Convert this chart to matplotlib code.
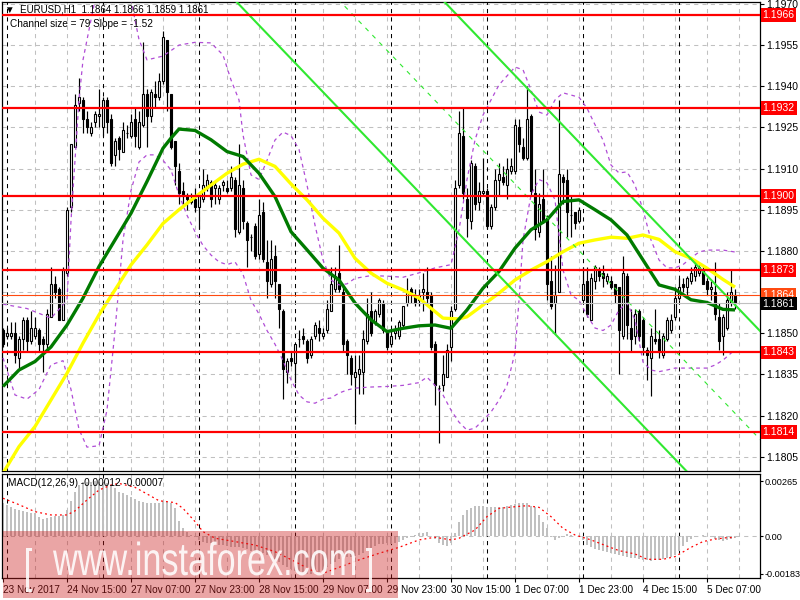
import numpy as np
import matplotlib
matplotlib.use("Agg")
import matplotlib.pyplot as plt
from matplotlib.patches import Rectangle, PathPatch
from matplotlib.textpath import TextPath
from matplotlib.font_manager import FontProperties
from matplotlib.transforms import blended_transform_factory, Affine2D

plt.rcParams['font.family'] = ['Liberation Sans', 'DejaVu Sans']

# ---- EURUSD H1 candles (23 Nov 23:00 .. 5 Dec 14:00) ----
opens = [
    1.1851, 1.1849, 1.1849, 1.1850, 1.1841, 1.1848, 1.1855, 1.1847, 1.1849, 1.1851,
    1.1848, 1.1846, 1.1856, 1.1868, 1.1866, 1.1855, 1.1872, 1.1896, 1.1918, 1.1934,
    1.1935, 1.1928, 1.1923, 1.1927, 1.1929, 1.1925, 1.1935, 1.1928, 1.1915, 1.1921,
    1.1916, 1.1923, 1.1922, 1.1928, 1.1918, 1.1926, 1.1937, 1.1929, 1.1937, 1.1936,
    1.1942, 1.1957, 1.1937, 1.1920, 1.1909, 1.1902, 1.1900, 1.1898, 1.1899, 1.1896,
    1.1899, 1.1903, 1.1905, 1.1903, 1.1899, 1.1904, 1.1903, 1.1903, 1.1906, 1.1887,
    1.1903, 1.1890, 1.1885, 1.1889, 1.1879, 1.1894, 1.1876, 1.1868, 1.1878, 1.1868,
    1.1858, 1.1836, 1.1841, 1.1839, 1.1848, 1.1849, 1.1847, 1.1842, 1.1849, 1.1852,
    1.1849, 1.1851, 1.1858, 1.1866, 1.1872, 1.1865, 1.1847, 1.1841, 1.1834, 1.1835,
    1.1836, 1.1847, 1.1858, 1.1854, 1.1857, 1.1861, 1.1850, 1.1846, 1.1850, 1.1849,
    1.1853, 1.1861, 1.1866, 1.1864, 1.1862, 1.1865, 1.1865, 1.1864, 1.1846, 1.1830,
    1.1831, 1.1834, 1.1845, 1.1859, 1.1904, 1.1922, 1.1899, 1.1891, 1.1911, 1.1898,
    1.1901, 1.1902, 1.1889, 1.1896, 1.1906, 1.1907, 1.1904, 1.1909, 1.1909, 1.1925,
    1.1918, 1.1914, 1.1929, 1.1901, 1.1887, 1.1899, 1.1892, 1.1869, 1.1861, 1.1865,
    1.1907, 1.1906, 1.1893, 1.1894, 1.1891, 1.1862, 1.1869, 1.1855, 1.1869, 1.1873,
    1.1872, 1.1869, 1.1869, 1.1868, 1.1867, 1.1849, 1.1871, 1.1852, 1.1849, 1.1858,
    1.1855, 1.1844, 1.1841, 1.1848, 1.1848, 1.1842, 1.1848, 1.1851, 1.1856, 1.1863,
    1.1868, 1.1867, 1.1869, 1.1871, 1.1872, 1.1873, 1.1869, 1.1866, 1.1865, 1.1856,
    1.1849, 1.1852, 1.1861, 1.1864]
highs = [
    1.1852, 1.1852, 1.1854, 1.1854, 1.1849, 1.1856, 1.1856, 1.1858, 1.1856, 1.1852,
    1.1849, 1.1859, 1.1874, 1.1871, 1.1867, 1.1874, 1.1896, 1.1919, 1.1937, 1.1943,
    1.1936, 1.1931, 1.1927, 1.1931, 1.1939, 1.1936, 1.1936, 1.1930, 1.1921, 1.1922,
    1.1927, 1.1926, 1.1930, 1.1932, 1.1931, 1.1956, 1.1939, 1.1939, 1.1942, 1.1945,
    1.1960, 1.1957, 1.1937, 1.1920, 1.1912, 1.1905, 1.1901, 1.1901, 1.1903, 1.1900,
    1.1910, 1.1908, 1.1906, 1.1905, 1.1904, 1.1906, 1.1906, 1.1911, 1.1907, 1.1919,
    1.1906, 1.1891, 1.1886, 1.1890, 1.1899, 1.1898, 1.1884, 1.1884, 1.1882, 1.1868,
    1.1859, 1.1841, 1.1843, 1.1846, 1.1851, 1.1852, 1.1848, 1.1849, 1.1854, 1.1855,
    1.1852, 1.1862, 1.1874, 1.1874, 1.1882, 1.1867, 1.1848, 1.1842, 1.1842, 1.1842,
    1.1851, 1.1863, 1.1865, 1.1859, 1.1863, 1.1862, 1.1851, 1.1851, 1.1853, 1.1855,
    1.1860, 1.1870, 1.1867, 1.1866, 1.1866, 1.1872, 1.1874, 1.1865, 1.1847, 1.1831,
    1.1842, 1.1846, 1.1860, 1.1906, 1.1931, 1.1932, 1.1903, 1.1913, 1.1912, 1.1905,
    1.1914, 1.1903, 1.1897, 1.1910, 1.1912, 1.1911, 1.1914, 1.1914, 1.1928, 1.1928,
    1.1921, 1.1940, 1.1930, 1.1910, 1.1901, 1.1910, 1.1893, 1.1878, 1.1875, 1.1935,
    1.1908, 1.1910, 1.1900, 1.1894, 1.1896, 1.1874, 1.1874, 1.1872, 1.1875, 1.1874,
    1.1875, 1.1872, 1.1871, 1.1868, 1.1867, 1.1878, 1.1872, 1.1859, 1.1859, 1.1859,
    1.1856, 1.1845, 1.1852, 1.1859, 1.1851, 1.1850, 1.1856, 1.1857, 1.1867, 1.1870,
    1.1870, 1.1871, 1.1874, 1.1876, 1.1875, 1.1875, 1.1870, 1.1869, 1.1876, 1.1861,
    1.1857, 1.1865, 1.1873, 1.1866]
lows = [
    1.1845, 1.1848, 1.1848, 1.1839, 1.1837, 1.1844, 1.1843, 1.1846, 1.1848, 1.1843,
    1.1836, 1.1843, 1.1856, 1.1863, 1.1855, 1.1855, 1.1871, 1.1894, 1.1918, 1.1931,
    1.1923, 1.1923, 1.1922, 1.1925, 1.1925, 1.1922, 1.1923, 1.1911, 1.1911, 1.1913,
    1.1916, 1.1921, 1.1921, 1.1918, 1.1917, 1.1925, 1.1918, 1.1927, 1.1932, 1.1935,
    1.1941, 1.1931, 1.1917, 1.1904, 1.1897, 1.1897, 1.1895, 1.1897, 1.1894, 1.1888,
    1.1898, 1.1902, 1.1896, 1.1897, 1.1897, 1.1902, 1.1901, 1.1902, 1.1885, 1.1886,
    1.1888, 1.1874, 1.1880, 1.1877, 1.1877, 1.1876, 1.1863, 1.1867, 1.1863, 1.1852,
    1.1826, 1.1832, 1.1838, 1.1832, 1.1845, 1.1846, 1.1839, 1.1841, 1.1848, 1.1847,
    1.1848, 1.1850, 1.1858, 1.1865, 1.1865, 1.1843, 1.1835, 1.1831, 1.1817, 1.1828,
    1.1828, 1.1846, 1.1849, 1.1853, 1.1856, 1.1850, 1.1844, 1.1845, 1.1848, 1.1848,
    1.1852, 1.1860, 1.1861, 1.1860, 1.1860, 1.1858, 1.1861, 1.1844, 1.1824, 1.1810,
    1.1829, 1.1834, 1.1840, 1.1858, 1.1903, 1.1899, 1.1885, 1.1888, 1.1895, 1.1895,
    1.1900, 1.1888, 1.1888, 1.1895, 1.1900, 1.1904, 1.1899, 1.1908, 1.1908, 1.1916,
    1.1913, 1.1913, 1.1900, 1.1884, 1.1885, 1.1890, 1.1862, 1.1859, 1.1850, 1.1865,
    1.1897, 1.1885, 1.1885, 1.1888, 1.1890, 1.1862, 1.1856, 1.1855, 1.1866, 1.1869,
    1.1867, 1.1868, 1.1866, 1.1861, 1.1835, 1.1848, 1.1848, 1.1843, 1.1846, 1.1847,
    1.1842, 1.1833, 1.1827, 1.1846, 1.1841, 1.1841, 1.1847, 1.1850, 1.1855, 1.1862,
    1.1865, 1.1863, 1.1868, 1.1869, 1.1871, 1.1868, 1.1864, 1.1862, 1.1855, 1.1844,
    1.1842, 1.1851, 1.1860, 1.1859]
closes = [
    1.1846, 1.1850, 1.1850, 1.1842, 1.1848, 1.1855, 1.1847, 1.1852, 1.1852, 1.1846,
    1.1846, 1.1857, 1.1868, 1.1865, 1.1855, 1.1873, 1.1895, 1.1919, 1.1933, 1.1936,
    1.1928, 1.1925, 1.1925, 1.1930, 1.1930, 1.1935, 1.1927, 1.1912, 1.1920, 1.1917,
    1.1924, 1.1923, 1.1927, 1.1922, 1.1927, 1.1937, 1.1929, 1.1938, 1.1936, 1.1942,
    1.1958, 1.1938, 1.1918, 1.1911, 1.1901, 1.1900, 1.1899, 1.1899, 1.1896, 1.1900,
    1.1904, 1.1906, 1.1899, 1.1904, 1.1903, 1.1905, 1.1902, 1.1907, 1.1888, 1.1904,
    1.1891, 1.1884, 1.1885, 1.1878, 1.1893, 1.1877, 1.1869, 1.1877, 1.1869, 1.1859,
    1.1837, 1.1840, 1.1840, 1.1846, 1.1848, 1.1848, 1.1841, 1.1848, 1.1853, 1.1850,
    1.1850, 1.1859, 1.1868, 1.1871, 1.1866, 1.1846, 1.1842, 1.1835, 1.1836, 1.1837,
    1.1848, 1.1857, 1.1850, 1.1858, 1.1862, 1.1851, 1.1845, 1.1849, 1.1851, 1.1854,
    1.1860, 1.1865, 1.1865, 1.1861, 1.1864, 1.1866, 1.1863, 1.1845, 1.1831, 1.1830,
    1.1835, 1.1844, 1.1858, 1.1903, 1.1923, 1.1901, 1.1892, 1.1912, 1.1897, 1.1902,
    1.1902, 1.1889, 1.1896, 1.1906, 1.1908, 1.1905, 1.1910, 1.1911, 1.1926, 1.1919,
    1.1914, 1.1928, 1.1902, 1.1888, 1.1897, 1.1891, 1.1868, 1.1860, 1.1864, 1.1908,
    1.1905, 1.1894, 1.1893, 1.1890, 1.1895, 1.1868, 1.1857, 1.1870, 1.1874, 1.1871,
    1.1870, 1.1871, 1.1867, 1.1864, 1.1851, 1.1872, 1.1853, 1.1848, 1.1857, 1.1849,
    1.1845, 1.1842, 1.1849, 1.1847, 1.1843, 1.1849, 1.1855, 1.1855, 1.1863, 1.1867,
    1.1867, 1.1870, 1.1872, 1.1874, 1.1874, 1.1868, 1.1866, 1.1867, 1.1857, 1.1847,
    1.1856, 1.1862, 1.1865, 1.1861]

# moving averages (bar index, price)
ma_green_bars = [0, 4, 8, 12, 16, 20, 24, 28, 32, 36, 40, 42, 44, 48, 52, 56, 60, 64, 68, 72,
                 76, 80, 84, 88, 92, 96, 100, 104, 108, 112, 116, 120, 124, 128, 132, 136,
                 140, 144, 148, 152, 156, 160, 164, 168, 172, 176, 180, 183]
ma_green = [1.18306, 1.18366, 1.18397, 1.18450, 1.18530, 1.18628, 1.18743, 1.18840, 1.18937,
            1.19053, 1.19174, 1.19211, 1.19244, 1.19239, 1.19205, 1.19162, 1.19144, 1.19083,
            1.18998, 1.18870, 1.18804, 1.18737, 1.18694, 1.18610, 1.18549, 1.18506, 1.18518,
            1.18527, 1.18530, 1.18518, 1.18585, 1.18664, 1.18725, 1.18810, 1.18877, 1.18913,
            1.18980, 1.18986, 1.18950, 1.18913, 1.18858, 1.18767, 1.18676, 1.18660, 1.18622,
            1.18612, 1.18587, 1.18585]
ma_yellow_bars = [0, 4, 8, 12, 16, 20, 24, 28, 32, 36, 40, 44, 48, 52, 56, 60, 64, 68, 72,
                  76, 80, 84, 88, 92, 96, 100, 104, 108, 110, 114, 116, 120, 124, 128, 132,
                  136, 140, 144, 148, 152, 156, 160, 164, 168, 172, 176, 180, 183]
ma_yellow = [1.17990, 1.18087, 1.18160, 1.18257, 1.18354, 1.18464, 1.18567, 1.18658, 1.18749,
             1.18822, 1.18900, 1.18950, 1.18996, 1.19040, 1.19083, 1.19116, 1.19134, 1.19108,
             1.19044, 1.18986, 1.18919, 1.18865, 1.18773, 1.18719, 1.18682, 1.18658, 1.18628,
             1.18579, 1.18555, 1.18552, 1.18560, 1.18603, 1.18646, 1.18694, 1.18730, 1.18761,
             1.18797, 1.18828, 1.18840, 1.18850, 1.18846, 1.18858, 1.18842, 1.18797, 1.18773,
             1.18737, 1.18696, 1.18668]

# envelope bands (purple dashed)
band_up_bars = [0, 6, 12, 16, 17, 19, 20, 23, 26, 30, 32, 34, 36, 40, 44, 48, 52, 55, 57, 59,
                60, 62, 64, 66, 68, 70, 72, 74, 76, 78, 80, 82, 84, 86, 88, 92, 96, 100, 104,
                108, 112, 114, 116, 118, 120, 124, 128, 130, 132, 134, 136, 138, 140, 142,
                144, 146, 148, 150, 152, 154, 156, 158, 160, 162, 164, 166, 168, 170, 172,
                174, 176, 180, 183]
band_up = [1.18606, 1.18590, 1.18555, 1.18620, 1.18910, 1.19350, 1.19496, 1.19715, 1.19790,
           1.19750, 1.19715, 1.19570, 1.19496, 1.19510, 1.19550, 1.19560, 1.19558, 1.19514,
           1.19423, 1.19350, 1.19223, 1.19077, 1.19060, 1.19130, 1.19204, 1.19233, 1.19220,
           1.19170, 1.19040, 1.18894, 1.18767, 1.18694, 1.18676, 1.18680, 1.18700, 1.18710,
           1.18708, 1.18704, 1.18720, 1.18738, 1.18750, 1.18876, 1.19060, 1.19204, 1.19295,
           1.19405, 1.19470, 1.19460, 1.19387, 1.19306, 1.19295, 1.19350, 1.19376, 1.19368,
           1.19360, 1.19320, 1.19260, 1.19204, 1.19113, 1.19084, 1.19088, 1.19040, 1.18950,
           1.18840, 1.18767, 1.18738, 1.18738, 1.18750, 1.18774, 1.18796, 1.18803, 1.18803,
           1.18796]
band_lo_bars = [0, 3, 6, 9, 12, 15, 17, 19, 21, 24, 26, 28, 30, 32, 34, 36, 38, 40, 42, 44,
                46, 48, 50, 52, 54, 56, 58, 60, 62, 64, 66, 68, 70, 72, 74, 76, 78, 80, 82,
                84, 86, 88, 92, 96, 100, 104, 106, 108, 110, 112, 114, 116, 118, 120, 122,
                124, 126, 128, 129, 130, 132, 134, 136, 138, 140, 142, 144, 146, 148, 150,
                152, 154, 156, 158, 160, 162, 164, 166, 168, 172, 176, 178, 180, 183]
band_lo = [1.18410, 1.18275, 1.18260, 1.18295, 1.18385, 1.18400, 1.18295, 1.18150, 1.18085,
           1.18090, 1.18220, 1.18510, 1.18840, 1.19020, 1.19124, 1.19150, 1.19150, 1.19130,
           1.19095, 1.19004, 1.18930, 1.18870, 1.18820, 1.18785, 1.18760, 1.18750, 1.18760,
           1.18715, 1.18620, 1.18570, 1.18510, 1.18460, 1.18400, 1.18330, 1.18275, 1.18250,
           1.18245, 1.18260, 1.18264, 1.18282, 1.18293, 1.18300, 1.18304, 1.18306, 1.18310,
           1.18320, 1.18340, 1.18310, 1.18275, 1.18220, 1.18176, 1.18147, 1.18154, 1.18183,
           1.18213, 1.18256, 1.18310, 1.18430, 1.18620, 1.18840, 1.19004, 1.19060, 1.19048,
           1.18986, 1.18730, 1.18640, 1.18620, 1.18566, 1.18519, 1.18510, 1.18530, 1.18585,
           1.18610, 1.18550, 1.18395, 1.18366, 1.18360, 1.18366, 1.18373, 1.18373, 1.18373,
           1.18384, 1.18402, 1.18440]

# regression channel (Channel size = 79, Slope = -1.52)
chan_anchor_bar = 140
chan_anchor_mid = 1.18862
chan_slope = -0.000152
chan_half = 0.00395

# horizontal levels
red_levels = [1.1966, 1.1932, 1.1900, 1.1873, 1.1843, 1.1814]
ask_level = 1.1864
bid_level = 1.1861
price_ticks = [1.1805, 1.1820, 1.1835, 1.1850, 1.1865, 1.1880, 1.1895, 1.1910, 1.1925,
               1.1940, 1.1955, 1.1970]

# MACD histogram (x1e-5) and signal line
macd_hist = [
    158, 150, 139, 129, 126, 123, 118, 113, 110, 91, 81, 86, 94, 97, 97, 102, 126, 171, 215, 247,
    264, 264, 264, 267, 264, 255, 255, 247, 231, 215, 207, 199, 188, 178, 171, 167, 162, 162, 162, 162,
    171, 167, 162, 134, 73, 37, 21, 5, -6, -19, -27, -32, -36, -39, -44, -45, -49, -52, -55, -55,
    -60, -65, -71, -76, -81, -84, -92, -100, -113, -125, -141, -152, -162, -168, -175, -181, -184, -184, -181, -175,
    -165, -152, -136, -125, -113, -103, -100, -100, -97, -92, -84, -71, -60, -49, -39, -39, -36, -39, -32, -27,
    -19, -11, -3, 5, 13, 16, 21, 0, -16, -36, -44, -49, -36, 13, 70, 102, 126, 137, 146, 147,
    146, 139, 139, 142, 142, 142, 146, 150, 155, 158, 158, 158, 146, 139, 102, 70, 37, -3, -19, -11,
    0, 10, 5, 0, -3, -19, -44, -55, -65, -68, -71, -76, -81, -87, -92, -97, -100, -105, -108, -112,
    -116, -116, -120, -116, -116, -113, -108, -103, -92, -71, -49, -27, -16, -6, 0, 5, 0, -6, -16, -19,
    -23, -19, -16, -12]
sig_bars = [0, 4, 8, 12, 16, 18, 21, 24, 27, 29, 33, 36, 39, 43, 45, 48, 50, 53, 58, 63, 68,
            73, 77, 80, 84, 89, 94, 99, 104, 108, 112, 114, 118, 121, 124, 128, 131, 134, 137,
            140, 143, 147, 151, 154, 158, 161, 165, 168, 172, 175, 178, 181, 183]
sig_vals = [183, 152, 118, 102, 102, 122, 175, 223, 247, 255, 236, 204, 171, 162, 134, 70, 21,
            -11, -27, -44, -76, -124, -165, -181, -152, -116, -84, -55, -19, -6, -19, -11, 29,
            94, 134, 142, 147, 139, 94, 37, 5, -19, -49, -71, -87, -113, -113, -100, -55, -27,
            -15, -8, -7]

time_label_bars = [0, 16, 32, 48, 64, 80, 96, 112, 128, 144, 160, 176]
time_labels = ["23 Nov 2017", "24 Nov 15:00", "27 Nov 07:00", "27 Nov 23:00", "28 Nov 15:00",
               "29 Nov 07:00", "29 Nov 23:00", "30 Nov 15:00", "1 Dec 07:00", "1 Dec 23:00",
               "4 Dec 15:00", "5 Dec 07:00"]
day_sep_bars = [1, 25, 49, 73, 97, 121, 145, 169]

W, H = 800, 600
fig = plt.figure(figsize=(8, 6), dpi=100)
fig.patch.set_facecolor('white')

ax = fig.add_axes([2 / W, 1 - 471 / H, 758 / W, 469 / H])
ax2 = fig.add_axes([2 / W, 1 - 578 / H, 758 / W, 104 / H])

GRID = '#c0c0c0'
xb = np.arange(len(closes))
o = np.array(opens); c = np.array(closes); h = np.array(highs); l = np.array(lows)

for a in (ax, ax2):
    a.set_xlim(-0.25, 189.25)
    for b in range(8, 190, 8):
        a.axvline(b, color=GRID, lw=0.75, ls=(0, (4, 4)), zorder=1)
    for b in day_sep_bars:
        a.axvline(b, color='black', lw=0.75, ls=(0, (4, 4)), zorder=1.5)
    for s in a.spines.values():
        s.set_color('black')
        s.set_linewidth(0.9)

# ---- main panel ----
ax.set_ylim(1.17998, 1.19707)
for p in price_ticks:
    ax.axhline(p, color=GRID, lw=0.75, ls=(0, (4, 4)), zorder=1)

ax.vlines(xb, l, h, color='black', lw=0.85, zorder=3)
face = np.where(c > o, 'white', 'black')
ax.bar(xb, np.abs(c - o), bottom=np.minimum(o, c), width=0.58, color=face,
       edgecolor='black', linewidth=0.8, zorder=3.1)

ax.plot(band_up_bars, band_up, color='#b04cd6', lw=0.9, ls=(0, (3, 3)), zorder=4)
ax.plot(band_lo_bars, band_lo, color='#b04cd6', lw=0.9, ls=(0, (3, 3)), zorder=4)
ax.plot(ma_yellow_bars, ma_yellow, color='#ffff00', lw=2.4, zorder=5, solid_capstyle='butt')
ax.plot(ma_green_bars, ma_green, color='#007a00', lw=2.4, zorder=5.1, solid_capstyle='butt')

cb = np.array([0, 190])
mid = chan_anchor_mid + chan_slope * (cb - chan_anchor_bar)
ax.plot(cb, mid + chan_half, color='#30e830', lw=1.5, zorder=6)
ax.plot(cb, mid - chan_half, color='#30e830', lw=1.5, zorder=6)
ax.plot(cb, mid, color='#30e830', lw=0.8, ls=(0, (4, 5)), zorder=6)

for p in red_levels:
    ax.axhline(p, color='#ff0000', lw=1.6, zorder=7)
ax.axhline(ask_level, color='#ff4a10', lw=0.8, zorder=7)
ax.axhline(bid_level, color='#c0c0c0', lw=0.8, zorder=7)

ax.set_xticks([])
ax.yaxis.tick_right()
ax.set_yticks(price_ticks)
ax.set_yticklabels(['' if abs(p - 1.1865) < 1e-6 else '%.4f' % p for p in price_ticks])
ax.tick_params(axis='y', direction='out', length=3, width=0.8, pad=1.5, labelsize=7.5)

tr = blended_transform_factory(ax.transAxes, ax.transData)
for p in red_levels:
    ax.text(1.0035, p, '%.4f' % p, transform=tr, color='white', fontsize=7.5, va='center',
            ha='left', clip_on=False, zorder=10,
            bbox=dict(facecolor='#ff0000', edgecolor='none', pad=1.3))
ax.text(1.0035, ask_level, '%.4f' % ask_level, transform=tr, color='white', fontsize=7.5,
        va='center', ha='left', clip_on=False, zorder=10,
        bbox=dict(facecolor='#ff4a10', edgecolor='none', pad=1.3))
ax.text(1.0035, bid_level - 0.00002, '%.4f' % bid_level, transform=tr, color='white', fontsize=7.5,
        va='center', ha='left', clip_on=False, zorder=11,
        bbox=dict(facecolor='black', edgecolor='none', pad=1.3))

# ---- MACD panel ----
ax2.set_ylim(-0.002037, 0.003007)
ax2.axhline(0, color=GRID, lw=0.75, ls=(0, (4, 4)), zorder=1)
ax2.bar(xb, np.array(macd_hist) * 1e-5, width=0.6, color='#c0c0c0', zorder=2)
ax2.plot(sig_bars, np.array(sig_vals) * 1e-5, color='#ff0000', lw=0.9, ls=(0, (1.5, 2.5)), zorder=3)
ax2.yaxis.tick_right()
ax2.set_yticks([0.00265, 0.0, -0.00183])
ax2.set_yticklabels(['0.00265', '0.00', '-0.00183'])
ax2.tick_params(axis='y', direction='out', length=2.5, width=0.8, pad=1, labelsize=6.6)
ax2.set_xticks(time_label_bars)
ax2.set_xticklabels(time_labels)
ax2.tick_params(axis='x', direction='out', length=3, width=0.8, pad=2, labelsize=7.2)
for t in ax2.get_xticklabels():
    t.set_horizontalalignment('left')

# ---- texts ----
fig.text(5 / W, 1 - 10 / H, '\u25bc  EURUSD,H1  1.1864 1.1866 1.1859 1.1861', fontsize=7,
         va='center', ha='left', zorder=20)
fig.text(10 / W, 1 - 24 / H, 'Channel size = 79 Slope = -1.52', fontsize=7.2,
         va='center', ha='left', zorder=20)
fig.text(8 / W, 1 - 483 / H, 'MACD(12,26,9) -0.00012 -0.00007', fontsize=7.2,
         va='center', ha='left', zorder=20)

# ---- watermark ----
fig.add_artist(Rectangle((3 / W, 2 / H), 395 / W, 67 / H, transform=fig.transFigure,
                         facecolor=(0.80, 0.12, 0.12), alpha=0.4, edgecolor='none', zorder=30))


def stamp(s, left, right, base_top, height_px, ref_h):
    # place text s in display pixels: width left..right, baseline at base_top (px from top)
    tp = TextPath((0, 0), s, size=100, prop=FontProperties(family='Liberation Sans'))
    ext = tp.get_extents()
    sx = (right - left) / ext.width
    sy = height_px / ref_h
    t = Affine2D().translate(-ext.x0, 0).scale(sx, sy).translate(left, H - base_top)
    fig.add_artist(PathPatch(tp, transform=t, facecolor='white', edgecolor='none',
                             alpha=0.88, zorder=31))


stamp('www.instaforex.com', 53, 355, 575, 24, 51.9)
stamp('[', 26, 32, 582, 34, 72.0)
stamp(']', 366, 372, 582, 34, 72.0)

fig.savefig('out.png', dpi=100)
